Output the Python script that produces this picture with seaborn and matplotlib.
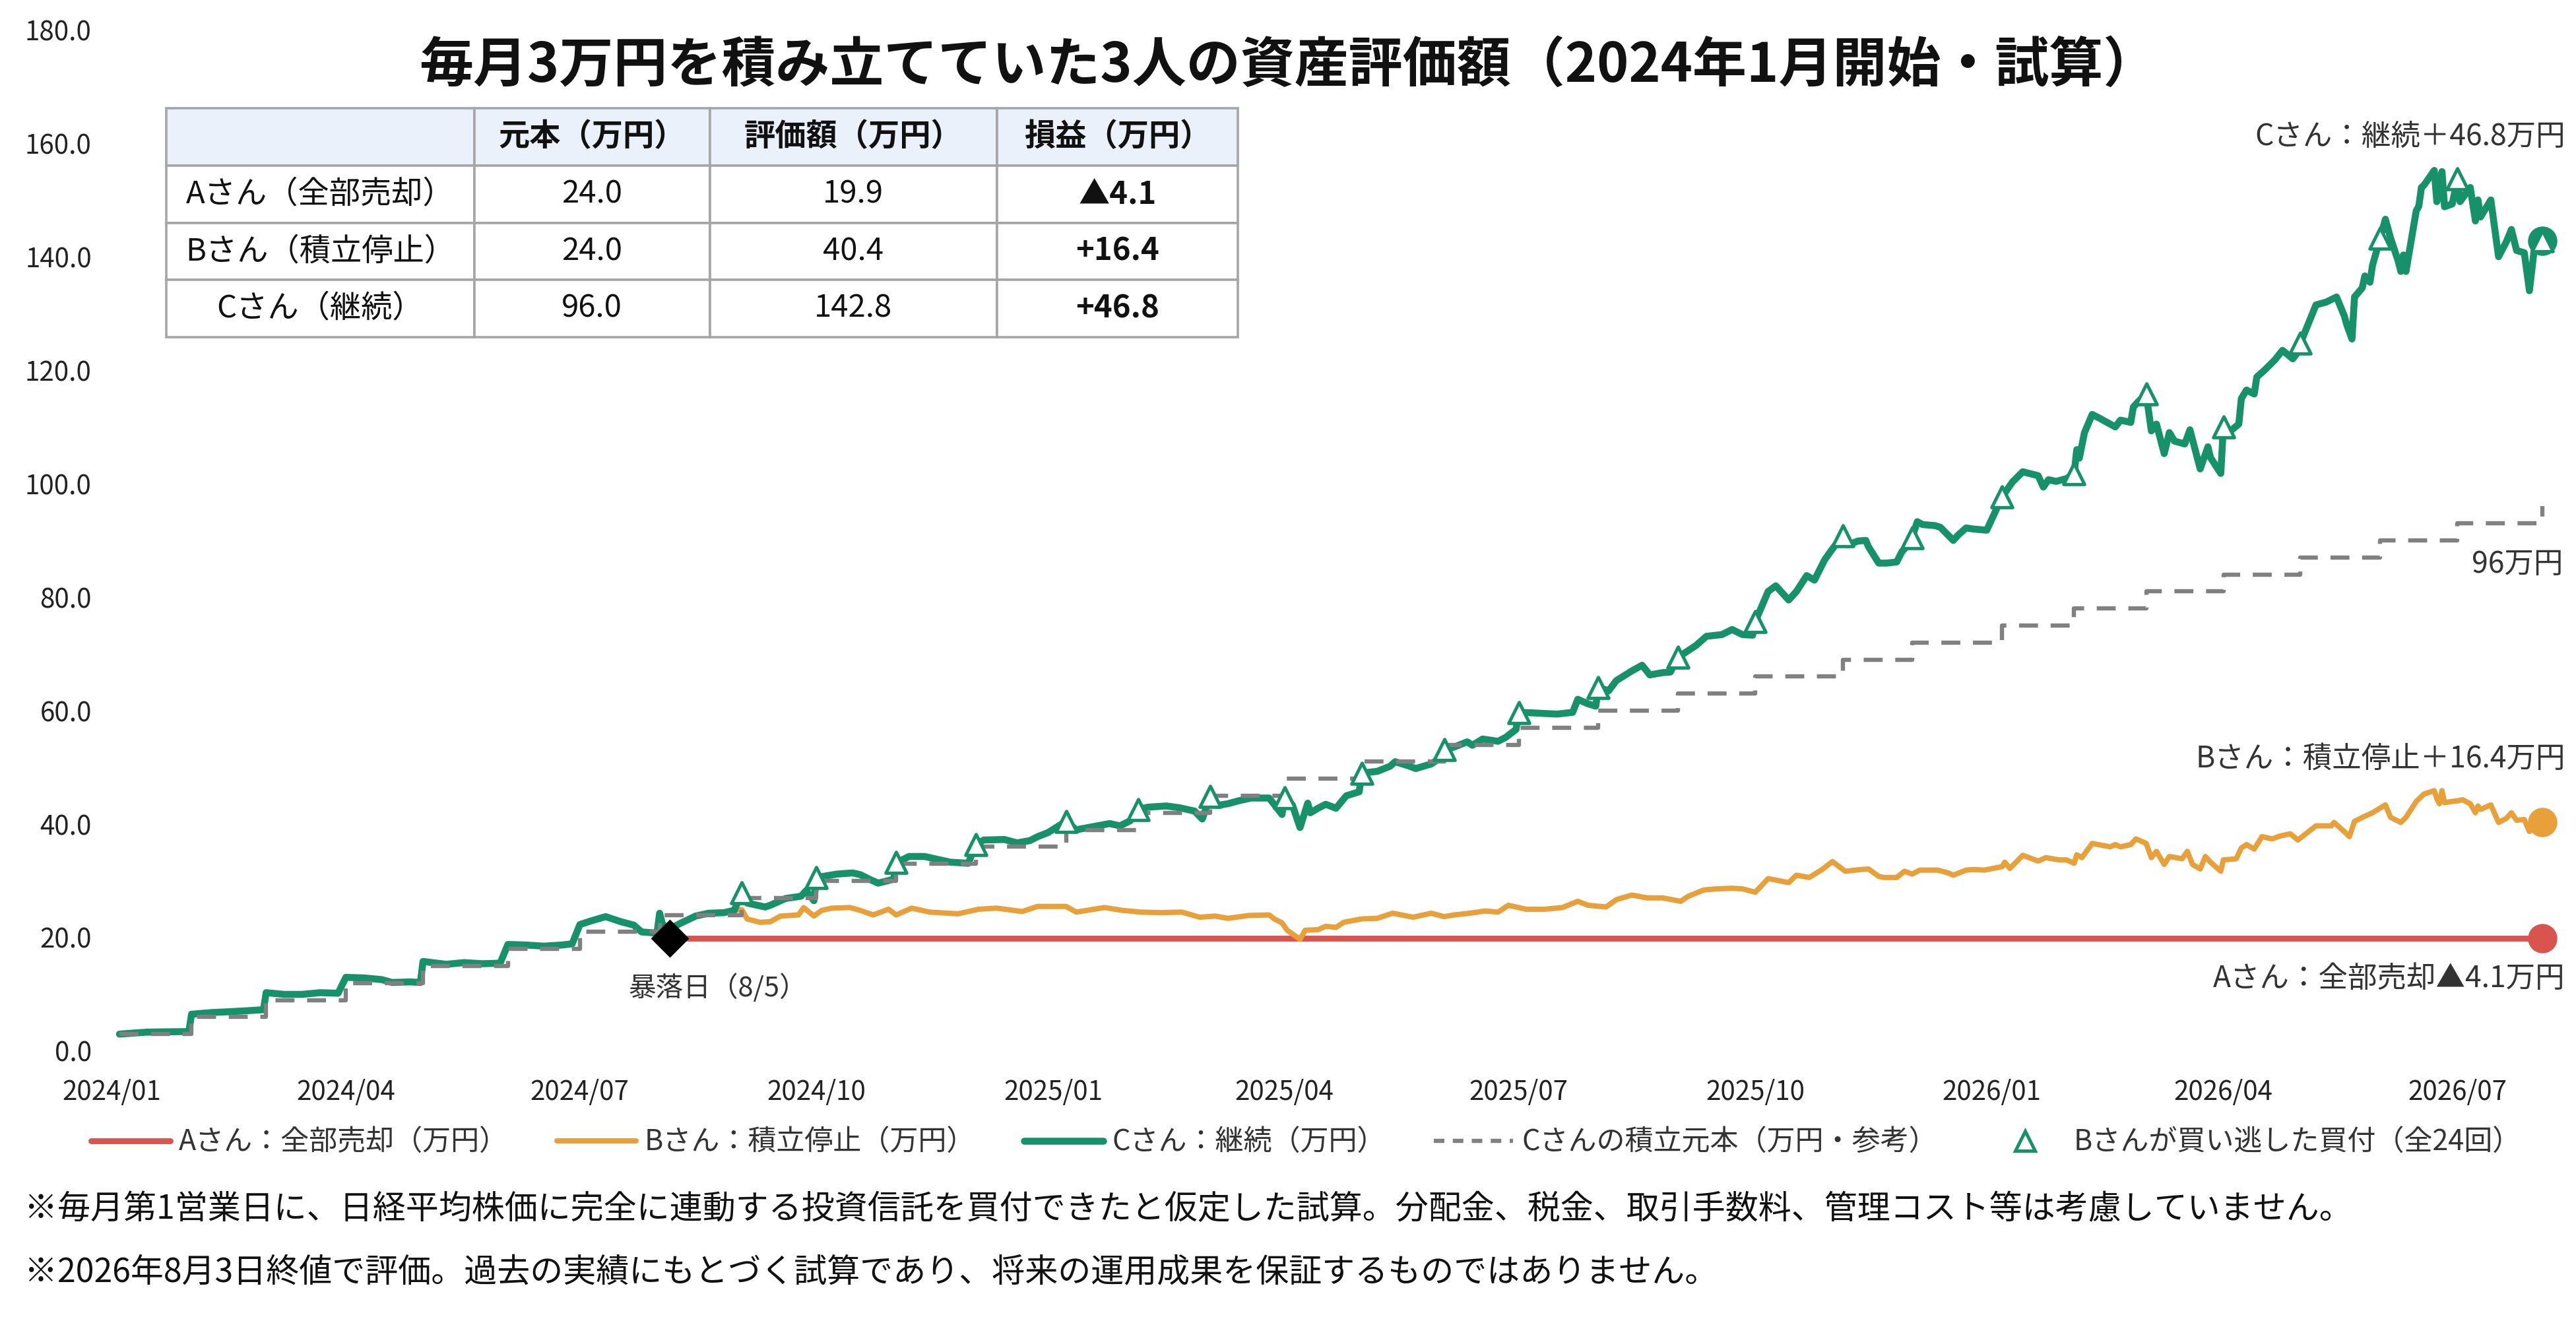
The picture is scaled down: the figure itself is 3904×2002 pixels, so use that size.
import matplotlib
matplotlib.use("Agg")
import matplotlib.pyplot as plt
import matplotlib.dates as mdates
from matplotlib.lines import Line2D
import seaborn as sns
import pandas as pd

# ---- C (continued) valuation, 万円 ----
c_days_2024 = ["01-04", "01-10", "01-15", "01-22", "01-31",
               "02-01", "02-09", "02-16", "02-22", "02-29",
               "03-01", "03-08", "03-15", "03-22", "03-29",
               "04-01", "04-08", "04-15", "04-19", "04-26", "04-30",
               "05-01", "05-10", "05-17", "05-24", "05-31",
               "06-03", "06-10", "06-17", "06-24", "06-28",
               "07-01", "07-05", "07-11", "07-17", "07-22", "07-25", "07-31",
               "08-01", "08-02", "08-05", "08-06", "08-09", "08-15", "08-20", "08-26", "08-30",
               "09-02", "09-04", "09-11", "09-13", "09-19", "09-25", "09-27", "09-30",
               "10-01", "10-09", "10-15", "10-18", "10-22", "10-25", "10-31",
               "11-01", "11-06", "11-12", "11-18", "11-22", "11-29",
               "12-02", "12-05", "12-13", "12-18", "12-23", "12-26", "12-30"]
c_vals_2024 = [3.0, 3.2, 3.35, 3.4, 3.45,
               6.5, 6.8, 6.95, 7.1, 7.3,
               10.3, 10.0, 10.0, 10.3, 10.2,
               13.0, 12.9, 12.6, 12.1, 12.2, 12.1,
               15.8, 15.3, 15.6, 15.4, 15.5,
               18.8, 18.7, 18.5, 18.7, 18.9,
               22.3, 22.9, 23.7, 22.8, 22.2, 21.0, 20.8,
               24.3, 22.6, 19.9, 21.8, 22.5, 23.8, 24.3, 24.4, 24.8,
               27.9, 26.1, 25.4, 25.7, 26.9, 27.3, 28.3, 26.5,
               30.6, 31.2, 31.4, 31.1, 30.2, 29.6, 30.3,
               33.2, 34.3, 34.3, 33.7, 33.3, 33.1,
               36.4, 37.2, 37.3, 36.7, 37.1, 37.8, 38.5]
c_days_2025 = ["01-06", "01-10", "01-17", "01-23", "01-27", "01-31",
               "02-03", "02-07", "02-14", "02-19", "02-25", "02-28",
               "03-03", "03-06", "03-10", "03-14", "03-19", "03-26", "03-31",
               "04-01", "04-04", "04-07", "04-10", "04-11", "04-14", "04-17", "04-21", "04-25", "04-30",
               "05-01", "05-07", "05-12", "05-14", "05-19", "05-22", "05-28", "05-30",
               "06-02", "06-06", "06-11", "06-13", "06-17", "06-23", "06-26", "06-30",
               "07-01", "07-07", "07-11", "07-16", "07-22", "07-24", "07-28", "07-31",
               "08-01", "08-05", "08-08", "08-14", "08-18", "08-21", "08-26", "08-29",
               "09-01", "09-05", "09-08", "09-12", "09-18", "09-22", "09-26", "09-30",
               "10-01", "10-06", "10-09", "10-14", "10-17", "10-21", "10-24", "10-28", "10-31",
               "11-04", "11-06", "11-10", "11-13", "11-14", "11-18", "11-21", "11-25", "11-27", "11-28",
               "12-01", "12-03", "12-05", "12-10", "12-12", "12-17", "12-19", "12-22", "12-25", "12-30"]
c_vals_2025 = [40.5, 39.0, 39.6, 40.1, 39.7, 40.6,
               42.6, 43.0, 43.2, 42.9, 42.3, 40.9,
               44.9, 43.3, 43.6, 44.1, 44.6, 44.6, 41.7,
               44.7, 43.4, 39.4, 43.7, 42.0, 42.8, 43.5, 42.8, 45.0, 45.7,
               49.0, 49.3, 50.2, 51.0, 50.3, 49.8, 50.6, 51.2,
               53.1, 53.6, 54.5, 53.9, 55.0, 54.6, 55.3, 56.7,
               59.7, 59.6, 59.5, 59.4, 59.7, 62.0, 61.2, 60.8,
               64.1, 63.5, 65.3, 67.0, 68.0, 66.3, 66.7, 66.8,
               69.4, 70.6, 71.5, 73.1, 73.4, 74.3, 73.4, 73.3,
               75.7, 81.0, 82.0, 79.5, 81.0, 83.8, 83.0, 86.6, 88.5,
               90.8, 89.2, 89.9, 90.0, 88.9, 86.0, 86.0, 86.2, 88.0, 88.5,
               90.5, 93.3, 92.8, 92.6, 92.3, 90.0, 91.0, 92.2, 92.0, 91.8]
c_days_2026 = ["01-05", "01-09", "01-13", "01-19", "01-21", "01-23", "01-26", "01-30",
               "02-02", "02-03", "02-04", "02-06", "02-09", "02-12", "02-16", "02-18", "02-20", "02-24", "02-25", "02-27",
               "03-02", "03-04", "03-06", "03-09", "03-11", "03-13", "03-17", "03-19", "03-23", "03-26", "03-27", "03-31",
               "04-01", "04-03", "04-07", "04-08", "04-10", "04-13", "04-14", "04-17", "04-21", "04-24", "04-28", "04-30",
               "05-01", "05-07", "05-11", "05-15", "05-18", "05-19", "05-21", "05-22", "05-25", "05-26", "05-28", "05-29",
               "06-01", "06-03", "06-05", "06-08", "06-09", "06-10", "06-11", "06-15", "06-16", "06-17", "06-18",
               "06-22", "06-23", "06-24", "06-25", "06-26", "06-29", "06-30",
               "07-01", "07-02", "07-06", "07-08", "07-09", "07-10", "07-14", "07-17", "07-20", "07-22", "07-24",
               "07-27", "07-29", "07-31",
               "08-03"]
c_vals_2026 = [97.7, 100.3, 102.1, 101.4, 99.4, 100.7, 100.4, 100.9,
               101.8, 106.0, 104.5, 109.0, 112.2, 111.5, 110.5, 110.0, 111.2, 110.8, 113.5, 114.5,
               115.8, 109.3, 110.5, 105.3, 109.0, 107.5, 107.0, 109.5, 102.6, 106.5, 104.6, 101.8,
               110.0, 109.0, 110.5, 115.0, 116.5, 115.8, 118.8, 120.0, 121.8, 123.5, 122.0, 123.2,
               124.8, 131.5, 132.0, 132.9, 129.6, 128.0, 125.5, 132.9, 134.5, 136.6, 135.5, 138.5,
               143.3, 146.6, 143.3, 139.2, 137.4, 140.3, 137.4, 148.1, 148.9, 152.2, 152.6,
               155.2, 149.7, 151.0, 155.0, 148.8, 149.3, 151.5,
               153.7, 149.7, 152.2, 146.3, 150.0, 147.0, 150.0, 140.0, 142.6, 144.8, 141.1,
               140.7, 134.0, 141.8,
               142.8]

# ---- B (stopped buying after 8/5/2024) valuation, 万円 ----
b_days_2024 = ["08-05", "08-06", "08-09", "08-15", "08-20", "08-26", "08-30",
               "09-02", "09-04", "09-09", "09-13", "09-17", "09-24", "09-26", "09-30",
               "10-03", "10-07", "10-14", "10-18", "10-23", "10-29",
               "11-01", "11-07", "11-14", "11-25",
               "12-03", "12-10", "12-20", "12-26"]
b_vals_2024 = [19.9, 21.8, 22.5, 23.8, 24.3, 24.4, 24.8,
               24.9, 23.3, 22.7, 22.8, 23.8, 24.0, 25.3, 23.8,
               24.8, 25.2, 25.3, 24.8, 24.0, 25.0,
               24.0, 25.2, 24.5, 24.2,
               25.0, 25.2, 24.6, 25.5]
b_days_2025 = ["01-06", "01-10", "01-21", "01-28",
               "02-04", "02-12", "02-20", "02-27",
               "03-05", "03-10", "03-18", "03-26", "03-28", "03-31",
               "04-02", "04-07", "04-09", "04-14", "04-17", "04-21", "04-24",
               "05-01", "05-07", "05-13", "05-21", "05-28",
               "06-02", "06-06", "06-12", "06-18", "06-23", "06-27",
               "07-04", "07-11", "07-18", "07-24", "07-28",
               "08-04", "08-08", "08-14", "08-20", "08-26",
               "09-02", "09-05", "09-11", "09-16", "09-22", "09-26",
               "10-01", "10-06", "10-14", "10-17", "10-22", "10-27", "10-31",
               "11-05", "11-11", "11-14", "11-18", "11-20", "11-25", "11-28",
               "12-01", "12-04", "12-11", "12-15", "12-17", "12-22", "12-25", "12-29"]
b_vals_2025 = [25.5, 24.5, 25.3, 24.8,
               24.5, 24.4, 24.5, 23.6,
               23.8, 23.4, 23.9, 24.0, 23.3, 22.6,
               21.3, 19.7, 21.3, 21.4, 22.0, 21.8, 22.7,
               23.3, 23.4, 24.3, 23.6, 24.3,
               23.7, 24.0, 24.3, 24.7, 24.5, 25.7,
               25.0, 25.0, 25.3, 26.4, 25.7,
               25.4, 26.7, 27.5, 27.0, 27.0,
               26.4, 27.3, 28.4, 28.6, 28.7, 28.6,
               28.0, 30.4, 29.7, 31.0, 30.6, 32.0, 33.4,
               31.7, 32.0, 32.1, 30.8, 30.6, 30.6, 31.7,
               31.2, 31.9, 31.9, 31.4, 31.0, 31.9, 32.0, 31.9]
b_days_2026 = ["01-05", "01-06", "01-08", "01-13", "01-19", "01-22", "01-27", "01-30",
               "02-02", "02-03", "02-05", "02-09", "02-16", "02-18", "02-20", "02-24", "02-26",
               "03-02", "03-04", "03-06", "03-09", "03-11", "03-16", "03-18", "03-20", "03-23", "03-25", "03-27", "03-31",
               "04-01", "04-06", "04-08", "04-10", "04-13", "04-16", "04-20", "04-23", "04-27", "04-30",
               "05-07", "05-13", "05-14", "05-18", "05-20", "05-22", "05-26", "05-29",
               "06-03", "06-05", "06-09", "06-11", "06-15", "06-18", "06-22", "06-23", "06-24", "06-25", "06-26", "06-29",
               "07-01", "07-03", "07-06", "07-08", "07-09", "07-10", "07-14", "07-17", "07-20", "07-22", "07-24",
               "07-27", "07-29", "07-31",
               "08-03"]
b_vals_2026 = [32.5, 33.3, 32.2, 34.5, 33.5, 34.1, 33.7, 33.7,
               33.1, 34.6, 34.1, 36.6, 36.0, 36.4, 36.0, 36.4, 37.4,
               36.6, 34.1, 35.2, 32.9, 34.3, 33.9, 35.2, 32.9, 32.1, 34.3, 33.3, 31.7,
               33.7, 33.9, 35.8, 36.4, 35.6, 37.8, 37.4, 37.9, 38.3, 37.2,
               39.7, 39.7, 40.3, 38.7, 37.8, 40.5, 41.4, 42.0,
               43.4, 41.2, 40.3, 41.2, 44.0, 45.3, 45.9, 44.5, 43.6, 45.9, 43.8, 44.0,
               44.1, 44.3, 43.6, 42.0, 43.2, 42.6, 43.4, 40.3, 41.0, 42.0, 40.7,
               40.8, 38.7, 40.8,
               40.4]

# ---- A (sold everything on 8/5/2024) ----
a_dates = ["2024-08-05", "2026-08-03"]
a_vals = [19.9, 19.9]

# ---- monthly purchase days and C's cumulative principal ----
buy_dates = ["2024-01-04", "2024-02-01", "2024-03-01", "2024-04-01", "2024-05-01", "2024-06-03",
             "2024-07-01", "2024-08-01", "2024-09-02", "2024-10-01", "2024-11-01", "2024-12-02",
             "2025-01-06", "2025-02-03", "2025-03-03", "2025-04-01", "2025-05-01", "2025-06-02",
             "2025-07-01", "2025-08-01", "2025-09-01", "2025-10-01", "2025-11-04", "2025-12-01",
             "2026-01-05", "2026-02-02", "2026-03-02", "2026-04-01", "2026-05-01", "2026-06-01",
             "2026-07-01", "2026-08-03"]
principal = [3, 6, 9, 12, 15, 18, 21, 24, 27, 30, 33, 36, 39, 42, 45, 48,
             51, 54, 57, 60, 63, 66, 69, 72, 75, 78, 81, 84, 87, 90, 93, 96]
missed_dates = buy_dates[8:]  # the 24 buys B skipped

crash_date = "2024-08-05"
end_date = "2026-08-03"

# ---- summary table ----
tbl_header = ["", "元本（万円）", "評価額（万円）", "損益（万円）"]
tbl_names = ["Aさん（全部売却）", "Bさん（積立停止）", "Cさん（継続）"]
tbl_principal = [24.0, 24.0, 96.0]
tbl_value = [19.9, 40.4, 142.8]
tbl_profit = ["▲4.1", "+16.4", "+46.8"]

x_ticks = ["2024-01-01", "2024-04-01", "2024-07-01", "2024-10-01", "2025-01-01", "2025-04-01",
           "2025-07-01", "2025-10-01", "2026-01-01", "2026-04-01", "2026-07-01"]

RED = "#d9534f"
ORANGE = "#e8a03a"
GREEN = "#17916a"
GRAY = "#808080"


def build(days_by_year, vals_by_year):
    dates, vals = [], []
    for year, days in days_by_year.items():
        dates += [f"{year}-{d}" for d in days]
        vals += vals_by_year[year]
    assert len(dates) == len(vals)
    return pd.DataFrame({"date": pd.to_datetime(dates), "value": vals})


df_c = build({2024: c_days_2024, 2025: c_days_2025, 2026: c_days_2026},
             {2024: c_vals_2024, 2025: c_vals_2025, 2026: c_vals_2026})
df_b = build({2024: b_days_2024, 2025: b_days_2025, 2026: b_days_2026},
             {2024: b_vals_2024, 2025: b_vals_2025, 2026: b_vals_2026})
df_a = pd.DataFrame({"date": pd.to_datetime(a_dates), "value": a_vals})
df_p = pd.DataFrame({"date": pd.to_datetime(buy_dates), "value": principal})
df_miss = df_c[df_c["date"].isin(pd.to_datetime(missed_dates))]

sns.set_theme(style="white")
plt.rcParams["font.family"] = ["Noto Sans CJK JP", "DejaVu Sans"]

fig = plt.figure(figsize=(19.52, 10.01), dpi=200)
ax = fig.add_axes([0.0384, 0.2043, 0.9555, 0.7732])

sns.lineplot(data=df_a, x="date", y="value", color=RED, lw=3.2, ax=ax, zorder=2)
sns.lineplot(data=df_b, x="date", y="value", color=ORANGE, lw=2.9, ax=ax, zorder=3)
sns.lineplot(data=df_c, x="date", y="value", color=GREEN, lw=3.8, ax=ax, zorder=4)
sns.lineplot(data=df_p, x="date", y="value", color=GRAY, lw=2.3, ls=(0, (4.5, 3)),
             drawstyle="steps-post", ax=ax, zorder=5)

# end dots
end = pd.to_datetime(end_date)
ax.plot([end], [tbl_value[0]], "o", color=RED, ms=15, zorder=6)
ax.plot([end], [tbl_value[1]], "o", color=ORANGE, ms=15, zorder=6)
ax.plot([end], [tbl_value[2]], "o", color=GREEN, ms=15, zorder=6)

sns.scatterplot(data=df_miss, x="date", y="value", marker="^", s=130, facecolor="white",
                edgecolor=GREEN, linewidth=1.8, ax=ax, zorder=7)

ax.plot([pd.to_datetime(crash_date)], [a_vals[0]], "D", color="black", ms=14, zorder=8)

# annotations
txt_kw = dict(textcoords="offset points", fontsize=16, color="#333333", va="center")
ax.annotate("Cさん：継続＋46.8万円", (end, tbl_value[2]), xytext=(12.6, 57), ha="right", **txt_kw)
ax.annotate("96万円", (end, principal[-1]), xytext=(11.2, -31.5), ha="right", **txt_kw)
ax.annotate("Bさん：積立停止＋16.4万円", (end, tbl_value[1]), xytext=(12.6, 34.4), ha="right", **txt_kw)
ax.annotate("Aさん：全部売却▲4.1万円", (end, tbl_value[0]), xytext=(12.6, -22), ha="right", **txt_kw)
ax.annotate("暴落日（8/5）", (pd.to_datetime(crash_date), a_vals[0]), xytext=(26, -27),
            ha="center", textcoords="offset points", fontsize=15, color="#333333", va="center")

# axes styling
ax.set_xlim(pd.Timestamp("2023-12-27"), pd.Timestamp("2026-08-10"))
ax.set_ylim(0, 180)
ax.set_yticks(range(0, 181, 20))
ax.yaxis.set_major_formatter(plt.FuncFormatter(lambda v, _: f"{v:.1f}"))
ax.set_xticks(pd.to_datetime(x_ticks))
ax.xaxis.set_major_formatter(mdates.DateFormatter("%Y/%m"))
ax.tick_params(axis="both", length=0, labelsize=14.5, colors="#222222")
ax.tick_params(axis="x", pad=15)
ax.tick_params(axis="y", pad=4)
ax.set_xlabel("")
ax.set_ylabel("")
sns.despine(ax=ax, left=True, bottom=True)
ax.grid(False)

# summary table
cells = [[n, f"{p:.1f}", f"{v:.1f}", g] for n, p, v, g in zip(tbl_names, tbl_principal, tbl_value, tbl_profit)]
tbl = ax.table(cellText=cells, colLabels=tbl_header, cellLoc="center",
               colWidths=[0.2876, 0.2198, 0.2679, 0.2248],
               bbox=[0.0273, 0.699, 0.4354, 0.2241], zorder=10)
tbl.auto_set_font_size(False)
tbl.set_fontsize(17)
for (r, c), cell in tbl.get_celld().items():
    cell.set_edgecolor("#a6a6a6")
    cell.set_linewidth(1.3)
    cell.get_text().set_color("#111111")
    if r == 0:
        cell.set_facecolor("#eaf1fa")
        cell.get_text().set_fontweight("bold")
    elif c == 3:
        cell.get_text().set_fontweight("bold")

# legend
handles = [
    Line2D([], [], color=RED, lw=3.2),
    Line2D([], [], color=ORANGE, lw=2.9),
    Line2D([], [], color=GREEN, lw=3.8),
    Line2D([], [], color=GRAY, lw=2.3, ls=(0, (2.5, 2))),
    Line2D([], [], color=GREEN, marker="^", ls="none", ms=11, mfc="white", mew=1.8),
]
labels = ["Aさん：全部売却（万円）", "Bさん：積立停止（万円）", "Cさん：継続（万円）",
          "Cさんの積立元本（万円・参考）", "Bさんが買い逃した買付（全24回）"]
fig.legend(handles, labels, loc="center", bbox_to_anchor=(0.507, 0.1349), ncol=5, frameon=False,
           fontsize=15.5, handlelength=2.8, handletextpad=0.3, columnspacing=1.7,
           labelcolor="#333333")

fig.text(0.5, 0.950, "毎月3万円を積み立てていた3人の資産評価額（2024年1月開始・試算）",
         ha="center", va="center", fontsize=29.5, fontweight="bold", color="#111111")
fig.text(0.0095, 0.0844,
         "※毎月第1営業日に、日経平均株価に完全に連動する投資信託を買付できたと仮定した試算。分配金、税金、取引手数料、管理コスト等は考慮していません。",
         ha="left", va="center", fontsize=18, color="#111111")
fig.text(0.0095, 0.0365,
         "※2026年8月3日終値で評価。過去の実績にもとづく試算であり、将来の運用成果を保証するものではありません。",
         ha="left", va="center", fontsize=18, color="#111111")

fig.savefig("out.png", dpi=200)
